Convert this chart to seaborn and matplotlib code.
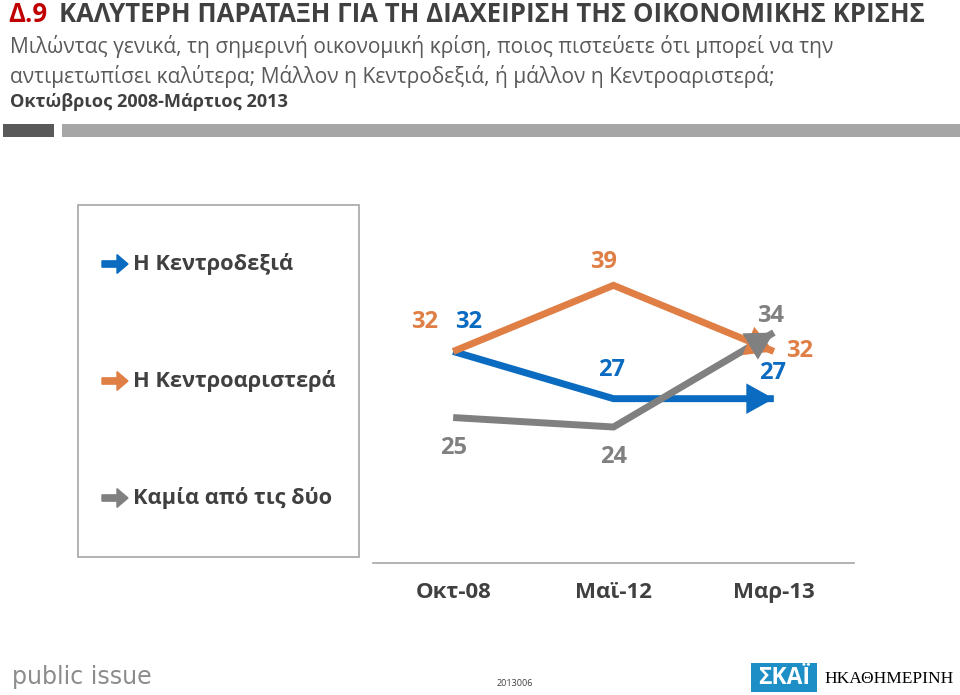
import matplotlib
matplotlib.use("Agg")
import matplotlib.pyplot as plt
from matplotlib.patches import Rectangle, FancyArrow
import seaborn as sns
import pandas as pd

# ---- data ----
dates = ["Οκτ-08", "Μαϊ-12", "Μαρ-13"]
series_names = ["Η Κεντροδεξιά", "Η Κεντροαριστερά", "Καμία από τις δύο"]
center_right = [32, 27, 27]
center_left = [32, 39, 32]
neither = [25, 24, 34]
colors = ["#0A6BC0", "#E07F45", "#808080"]

df = pd.DataFrame({
    "date": dates * 3,
    "series": [series_names[0]] * 3 + [series_names[1]] * 3 + [series_names[2]] * 3,
    "value": center_right + center_left + neither,
})

sns.set_theme(style="white")
plt.rcParams["font.family"] = ["Open Sans", "DejaVu Sans"]

W, H = 960, 695
fig = plt.figure(figsize=(W / 100, H / 100), dpi=100)

def fx(px):
    return px / W

def fy(py):
    return 1 - py / H

# plot axes: x 373..854, y bottom at 563
ax = fig.add_axes([fx(373), fy(563), fx(854) - fx(373), fy(257) - fy(563)])
ax.patch.set_alpha(0)
sns.lineplot(data=df, x="date", y="value", hue="series", palette=colors,
             linewidth=5, ax=ax, legend=False, sort=False)
for ln in ax.lines:
    ln.set_solid_capstyle("butt")
    ln.set_solid_joinstyle("miter")

ax.set_xlim(-0.5, 2.5)
ax.set_ylim(9.6, 42.0)
for s in ["top", "right", "left"]:
    ax.spines[s].set_visible(False)
ax.spines["bottom"].set_color("#A6A6A6")
ax.spines["bottom"].set_linewidth(1.2)
ax.set_yticks([])
ax.set_xticks([0, 1, 2])
ax.set_xticklabels(dates, fontsize=16, fontweight="bold", color="#404040")
ax.tick_params(axis="x", which="major", length=0, pad=14)
ax.set_xticks([-0.5, 0.5, 1.5, 2.5], minor=True)
ax.tick_params(axis="x", which="minor", length=6, width=1.2, color="#A6A6A6", direction="out")
ax.set_xlabel("")
ax.set_ylabel("")

# arrowheads at line ends
all_series = [center_right, center_left, neither]
for vals, col in zip(all_series, colors):
    ax.annotate("", xy=(2, vals[2]), xytext=(1.88, vals[1] + (vals[2] - vals[1]) * 0.88),
                xycoords="data", textcoords="data",
                arrowprops=dict(arrowstyle="-|>,head_length=0.9,head_width=0.5",
                                color=col, lw=0, mutation_scale=22,
                                shrinkA=0, shrinkB=0), zorder=5)

# value labels (pixel offsets from points)
offsets = [
    [(15, 29), (-2, 29), (-1, 26)],
    [(-29, 29), (-10, 23), (26, 0)],
    [(0, -30), (0, -30), (-3, 17)],
]
for vals, col, offs in zip(all_series, colors, offsets):
    for i, (v, o) in enumerate(zip(vals, offs)):
        ax.annotate(f"{v}", xy=(i, v), xytext=o, textcoords="offset pixels",
                    ha="center", va="center", fontsize=17, fontweight="bold",
                    color=col, zorder=6)

# ---- legend box ----
fig.patches.append(Rectangle((fx(78), fy(557)), fx(359) - fx(78), fy(205) - fy(557),
                             transform=fig.transFigure, facecolor="white",
                             edgecolor="#A6A6A6", linewidth=1.2, zorder=0))
legend_y = [264, 381, 498]
for name, col, ly in zip(series_names, colors, legend_y):
    fig.patches.append(FancyArrow(fx(102), fy(ly), fx(127) - fx(102) - fx(10), 0,
                                  width=0.009, head_width=0.027, head_length=fx(11),
                                  length_includes_head=False, color=col,
                                  transform=fig.transFigure, zorder=3))
    fig.text(fx(133), fy(ly), name, fontsize=15.7, fontweight="bold", color="#404040",
             ha="left", va="center")

# ---- titles ----
fig.text(fx(8), fy(14), "Δ.9", fontsize=18.5, fontweight="bold", color="#C00000",
         ha="left", va="center")
fig.text(fx(59), fy(14), "ΚΑΛΥΤΕΡΗ ΠΑΡΑΤΑΞΗ ΓΙΑ ΤΗ ΔΙΑΧΕΙΡΙΣΗ ΤΗΣ ΟΙΚΟΝΟΜΙΚΗΣ ΚΡΙΣΗΣ",
         fontsize=18.5, fontweight="bold", color="#404040", ha="left", va="center")
fig.text(fx(10), fy(46), "Μιλώντας γενικά, τη σημερινή οικονομική κρίση, ποιος πιστεύετε ότι μπορεί να την",
         fontsize=15.1, color="#595959", ha="left", va="center")
fig.text(fx(10), fy(76), "αντιμετωπίσει καλύτερα; Μάλλον η Κεντροδεξιά, ή μάλλον η Κεντροαριστερά;",
         fontsize=15.1, color="#595959", ha="left", va="center")
fig.text(fx(10), fy(102), "Οκτώβριος 2008-Μάρτιος 2013", fontsize=13.1, fontweight="bold",
         color="#404040", ha="left", va="center")

# header bars
fig.patches.append(Rectangle((fx(3), fy(137)), fx(51), fy(124) - fy(137),
                             transform=fig.transFigure, color="#595959", lw=0))
fig.patches.append(Rectangle((fx(62), fy(137)), fx(898), fy(124) - fy(137),
                             transform=fig.transFigure, color="#A6A6A6", lw=0))

# ---- footer ----
fig.text(fx(12), fy(677), "public issue", fontsize=17, color="#8C8C8C",
         ha="left", va="center", family=["DejaVu Sans"])
fig.text(fx(497), fy(684), "2013006", fontsize=6.5, color="#404040",
         ha="left", va="center")
fig.patches.append(Rectangle((fx(751), fy(692)), fx(66), fy(663) - fy(692),
                             transform=fig.transFigure, color="#1E8FC6", lw=0))
fig.text(fx(784), fy(678), "ΣΚΑΪ", fontsize=16.5, fontweight="bold", color="white",
         ha="center", va="center")
fig.text(fx(824), fy(679), "ΗΚΑΘΗΜΕΡΙΝΗ", fontsize=12.5, color="black",
         ha="left", va="center", family=["Liberation Serif", "DejaVu Serif"])

fig.savefig("out.png", dpi=100)
